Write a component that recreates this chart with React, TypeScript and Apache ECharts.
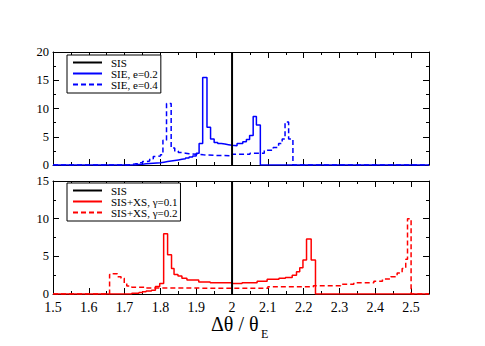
import React, { useEffect, useRef } from "react";
import * as echarts from "echarts";

// ---- data ----
const X_MIN = 1.5;
const X_MAX = 2.55;
const SIS_X = 2;

const xTickLabels = ["1.5", "1.6", "1.7", "1.8", "1.9", "2", "2.1", "2.2", "2.3", "2.4", "2.5"];

// top panel: SIE e=0.2 (solid blue) histogram: bin edges and heights
const sieE02Edges = [1.73, 1.74, 1.75, 1.76, 1.77, 1.78, 1.79, 1.8, 1.81, 1.82, 1.83, 1.84, 1.85, 1.86, 1.87, 1.88, 1.89, 1.9, 1.908, 1.918, 1.93, 1.94, 1.95, 1.96, 1.97, 1.98, 1.99, 2.0, 2.014, 2.03, 2.04, 2.049, 2.059, 2.068, 2.079];
const sieE02Values = [0.1, 0.15, 0.2, 0.25, 0.3, 0.35, 0.4, 0.5, 0.6, 0.7, 0.8, 0.9, 1.0, 1.1, 1.25, 1.4, 1.6, 2.1, 3.8, 15.5, 6.7, 4.6, 4.0, 3.8, 3.7, 3.6, 3.5, 3.4, 3.8, 4.1, 4.5, 5.2, 8.6, 7.1];

// top panel: SIE e=0.4 (dashed blue)
const sieE04Edges = [1.71, 1.72, 1.73, 1.74, 1.75, 1.76, 1.77, 1.78, 1.79, 1.8, 1.807, 1.817, 1.83, 1.84, 1.85, 1.86, 1.87, 1.88, 1.9, 1.92, 1.95, 2.0, 2.05, 2.09, 2.115, 2.13, 2.14, 2.148, 2.158, 2.17];
const sieE04Values = [0.1, 0.2, 0.25, 0.4, 0.6, 0.7, 1.1, 1.5, 1.6, 1.8, 4.4, 10.9, 3.0, 2.5, 2.2, 2.1, 2.0, 1.9, 1.8, 1.7, 1.65, 1.9, 2.1, 2.6, 3.1, 3.8, 4.6, 7.6, 4.6];

// bottom panel: SIS+XS gamma=0.1 (solid red)
const xsG01Edges = [1.72, 1.74, 1.75, 1.76, 1.775, 1.786, 1.798, 1.809, 1.82, 1.831, 1.838, 1.849, 1.86, 1.874, 1.907, 1.939, 2.0, 2.028, 2.07, 2.098, 2.131, 2.149, 2.168, 2.18, 2.189, 2.198, 2.208, 2.221, 2.233];
const xsG01Values = [0.1, 0.2, 0.3, 0.4, 0.5, 1.0, 1.4, 8.0, 5.2, 3.4, 2.6, 2.4, 2.1, 1.85, 1.6, 1.5, 1.4, 1.5, 1.7, 1.95, 2.1, 2.2, 2.5, 2.95, 3.5, 4.5, 7.3, 4.5];

// bottom panel: SIS+XS gamma=0.2 (dashed red)
const xsG02Edges = [1.658, 1.668, 1.68, 1.69, 1.699, 1.706, 1.72, 1.76, 1.85, 2.0, 2.1, 2.227, 2.303, 2.34, 2.396, 2.42, 2.443, 2.461, 2.475, 2.485, 2.49, 2.5];
const xsG02Values = [2.6, 2.7, 2.3, 2.1, 1.4, 1.05, 0.9, 0.8, 0.75, 0.75, 0.95, 1.1, 1.3, 1.5, 1.7, 2.0, 2.3, 2.8, 3.4, 4.6, 10.0];

const topYMax = 20;
const bottomYMax = 15;

const legendTop = ["SIS", "SIE, e=0.2", "SIE, e=0.4"];
const legendBottom = ["SIS", "SIS+XS, \u03b3=0.1", "SIS+XS, \u03b3=0.2"];

const axisTitleMain = "\u0394\u03b8 / \u03b8";
const axisTitleSub = "E";

// ---- helpers ----
function stepPoints(edges: number[], values: number[]): number[][] {
  const pts: number[][] = [[X_MIN, 0], [edges[0], 0]];
  for (let i = 0; i < values.length; i++) {
    pts.push([edges[i], values[i]]);
    pts.push([edges[i + 1], values[i]]);
  }
  pts.push([edges[edges.length - 1], 0]);
  pts.push([X_MAX, 0]);
  return pts;
}

const FONT = "'Liberation Serif', 'Times New Roman', serif";

export default function App() {
  const ref = useRef<HTMLDivElement>(null);

  useEffect(() => {
    if (!ref.current) return;
    const chart = echarts.init(ref.current, undefined, { renderer: "svg" });

    const grids = [
      { left: 53, right: 56, top: 52, height: 113 },
      { left: 53, right: 56, top: 181, height: 113 },
    ];

    const xAxes: any[] = [];
    grids.forEach((_, g) => {
      const labelled = g === 1;
      // major bottom
      xAxes.push({
        type: "value", gridIndex: g, position: "bottom", min: X_MIN, max: X_MAX, interval: 0.1,
        axisLine: { show: true, onZero: false, lineStyle: { color: "#000", width: 1 } },
        axisTick: { show: true, inside: true, length: 6, lineStyle: { color: "#000" } },
        axisLabel: {
          show: labelled, margin: 7, color: "#000", fontFamily: FONT, fontSize: 14, lineHeight: 12,
          formatter: (v: number) => {
            const i = Math.round((v - X_MIN) / 0.1);
            return Math.abs(v - (X_MIN + i * 0.1)) < 1e-6 && i < xTickLabels.length ? xTickLabels[i] : "";
          },
        },
        splitLine: { show: false },
      });
      // minor bottom
      xAxes.push({
        type: "value", gridIndex: g, position: "bottom", min: X_MIN, max: X_MAX, interval: 0.05,
        axisLine: { show: false, onZero: false },
        axisTick: { show: true, inside: true, length: 3, lineStyle: { color: "#000" } },
        axisLabel: { show: false }, splitLine: { show: false },
      });
      // major top
      xAxes.push({
        type: "value", gridIndex: g, position: "top", min: X_MIN, max: X_MAX, interval: 0.1,
        axisLine: { show: true, onZero: false, lineStyle: { color: "#000", width: 1 } },
        axisTick: { show: true, inside: true, length: 6, lineStyle: { color: "#000" } },
        axisLabel: { show: false }, splitLine: { show: false },
      });
      // minor top
      xAxes.push({
        type: "value", gridIndex: g, position: "top", min: X_MIN, max: X_MAX, interval: 0.05,
        axisLine: { show: false, onZero: false },
        axisTick: { show: true, inside: true, length: 3, lineStyle: { color: "#000" } },
        axisLabel: { show: false }, splitLine: { show: false },
      });
    });

    const yAxes: any[] = [];
    [topYMax, bottomYMax].forEach((ymax, g) => {
      ["left", "right"].forEach((pos) => {
        yAxes.push({
          type: "value", gridIndex: g, position: pos, min: 0, max: ymax, interval: 5,
          axisLine: { show: true, onZero: false, lineStyle: { color: "#000", width: 1 } },
          axisTick: { show: true, inside: true, length: 6, lineStyle: { color: "#000" } },
          minorTick: { show: true, splitNumber: 2, length: 3, lineStyle: { color: "#000" } },
          axisLabel: { show: pos === "left", margin: 4, color: "#000", fontFamily: FONT, fontSize: 12.5, lineHeight: 10 },
          splitLine: { show: false },
          minorSplitLine: { show: false },
        });
      });
    });

    const blue = "#0000ff";
    const red = "#ff0000";
    const dash = [5, 3];

    const base = { type: "line", symbol: "none", showSymbol: false, silent: true };

    const series: any[] = [
      {
        ...base, name: "SIS", xAxisIndex: 0, yAxisIndex: 0, z: 5,
        data: [[SIS_X, 0], [SIS_X, topYMax]],
        lineStyle: { color: "#000", width: 2 }, itemStyle: { color: "#000" },
      },
      {
        ...base, name: legendTop[1], xAxisIndex: 0, yAxisIndex: 0,
        data: stepPoints(sieE02Edges, sieE02Values),
        lineStyle: { color: blue, width: 1.5 }, itemStyle: { color: blue },
      },
      {
        ...base, name: legendTop[2], xAxisIndex: 0, yAxisIndex: 0,
        data: stepPoints(sieE04Edges, sieE04Values),
        lineStyle: { color: blue, width: 1.5, type: dash }, itemStyle: { color: blue },
      },
      {
        ...base, name: "SIS", xAxisIndex: 4, yAxisIndex: 2, z: 5,
        data: [[SIS_X, 0], [SIS_X, bottomYMax]],
        lineStyle: { color: "#000", width: 2 }, itemStyle: { color: "#000" },
      },
      {
        ...base, name: legendBottom[1], xAxisIndex: 4, yAxisIndex: 2,
        data: stepPoints(xsG01Edges, xsG01Values),
        lineStyle: { color: red, width: 1.5 }, itemStyle: { color: red },
      },
      {
        ...base, name: legendBottom[2], xAxisIndex: 4, yAxisIndex: 2,
        data: stepPoints(xsG02Edges, xsG02Values),
        lineStyle: { color: red, width: 1.5, type: dash }, itemStyle: { color: red },
      },
    ];

    const legendCommon = {
      orient: "vertical",
      itemWidth: 29,
      itemHeight: 11,
      itemGap: 0,
      padding: [2, 3, 3, 5],
      borderColor: "#000",
      borderWidth: 1,
      backgroundColor: "#fff",
      selectedMode: false,
      itemStyle: { opacity: 0 },
      textStyle: { fontFamily: FONT, fontSize: 11, color: "#000", lineHeight: 11, padding: [0, 0, 0, 4] },
    };

    chart.setOption({
      animation: false,
      backgroundColor: "#fff",
      grid: grids,
      xAxis: xAxes,
      yAxis: yAxes,
      series,
      legend: [
        { ...legendCommon, data: legendTop, left: 67, top: 55 },
        { ...legendCommon, data: legendBottom, left: 67, top: 183 },
      ],
      graphic: [
        {
          type: "text", x: 211, y: 324,
          style: { text: axisTitleMain, font: `20px ${FONT}`, fill: "#000", verticalAlign: "middle" },
        },
        {
          type: "text", x: 261, y: 334,
          style: { text: axisTitleSub, font: `12px ${FONT}`, fill: "#000", verticalAlign: "middle" },
        },
      ],
    });

    return () => chart.dispose();
  }, []);

  return (
    <div
      ref={ref}
      style={{ position: "fixed", left: 0, top: 0, width: 485, height: 346, background: "#fff" }}
    />
  );
}
